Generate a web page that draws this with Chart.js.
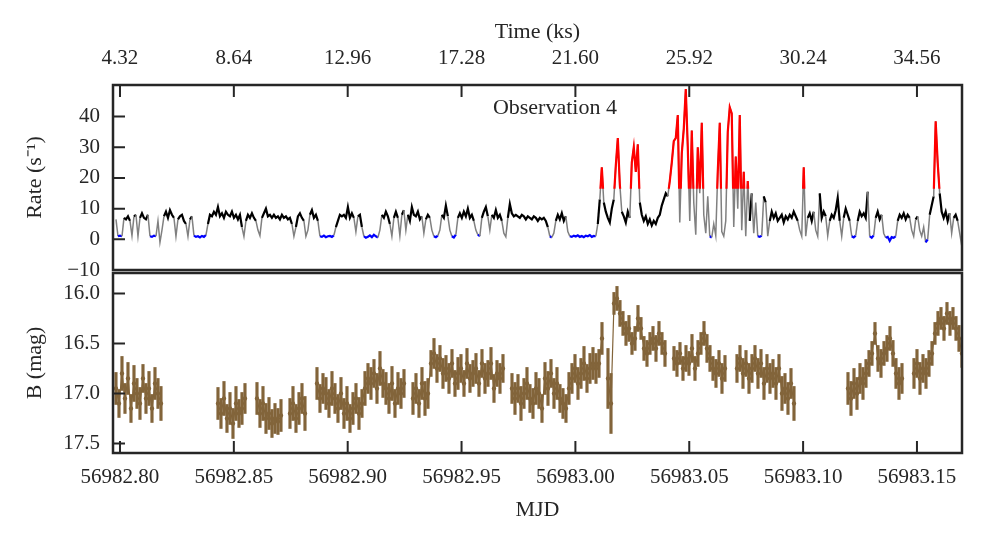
<!DOCTYPE html>
<html>
<head>
<meta charset="utf-8">
<script src="https://cdn.jsdelivr.net/npm/chart.js@4.4.0/dist/chart.umd.min.js"></script>
<style>
  html, body { margin: 0; padding: 0; background: #fff; }
  #wrap { position: relative; width: 983px; height: 544px; }
  #rateChart { position: absolute; left: 0; top: 0; z-index: 2; }
  #magChart { position: absolute; left: 0; top: 269px; z-index: 1; }
</style>
</head>
<body>
<div id="wrap">
  <canvas id="rateChart" width="983" height="290"></canvas>
  <canvas id="magChart" width="983" height="275"></canvas>
</div>
<script>
// X-ray count rate, binned light curve (one value per bin)
const rateStart = 56982.79824;
const rateStep = 0.000878;
const rate = [
  6.5, 1.0, 1.2, 1.0, 7, 6.5, 7.5, 6, 1.2, 7.5, 8, 1.0, 7, 8.5, 7, 6.5, 8, 1.0, 0.8, 1.2,
  1.0, 6, -1, 3, 7.5, 9, 7, 9.5, 8, 7, 1.0, 6.5, 7.5, 8, 6, 5, 1.0, 6.5, 7.5, 1.2,
  0.8, 1.0, 0.6, 1.1, 0.8, 1.4, 5, 8, 7.5, 9, 8, 10.5, 7.5, 8.5, 7, 9, 8, 7.5, 9, 7,
  8, 6.5, 8, 4, 1.0, 6, 8, 7, 8.5, 7, 6, 3, 1.2, 7, 8.5, 10, 7.5, 8, 7, 8,
  7, 7.5, 6.5, 8, 7, 7.5, 6.5, 7, 5, 1.0, 4, 7.5, 8.5, 7, 6, 1.0, 3, 8, 9.5, 7,
  8, 6, 1.0, 0.8, 1.2, 0.7, 1.0, 1.1, 0.8, 1.3, 4, 6, 8, 7.5, 8, 7, 10.5, 7, 8.5, 7,
  2.5, 7.5, 8, 4, 1.0, 0.5, 0.8, 1.3, 0.7, 1.5, 1.0, 0.6, 3, 8, 7, 9, 7.5, 5, 1.0, 7,
  9, 7, 1.2, 8, 9.5, 3, 8, 6, 10.5, 8, 7.5, 9, 6.5, 7.5, 2, 6.5, 8, 7, 3, 1.0,
  0.7, 1.2, 3, 8, 7, 11, 7.5, 3, 1.0, 0.6, 1.5, 7, 8.5, 7, 9, 7.5, 10, 7, 8, 6,
  3, 1.5, 1.0, 7, 9, 10.5, 7.5, 3, 8, 7, 9.5, 7, 8, 6, 2, 0.8, 7, 11.5, 8.5, 7.5,
  8, 7.5, 7, 8, 7.5, 6.5, 7.5, 7, 6.5, 7.5, 7, 6, 7, 6.5, 7, 6, 4, 1.0, 0.6, 2,
  6, 8, 6.5, 8.5, 6, 7.5, 2.5, 1.0, 0.8, 1.2, 0.9, 1.3, 0.8, 1.1, 0.7, 1.2, 1.0, 1.4, 0.8, 1.1,
  1.0, 5, 13, 23.5, 12, 9, 7, 5.5, 10, 13, 24, 33, 18, 9, 7.5, 5.5, 9, 7, 25, 30,
  22, 31, 12, 8, 6, 7.5, 5, 6.5, 4.5, 6, 5, 7, 8, 11, 13, 15, 14, 19, 25, 32,
  33, 40.5, 5.5, 28, 36, 49, 30, 6, 35.5, 12, 1.5, 30, 15, 38, 8, 2, 14, 1.0, 0.6, 5,
  1.2, 22, 38, 2.5, 1.0, 6, 35, 43, 41, 4, 27, 10, 40.5, 3, 22, 1.0, 19, 6, 15, 2,
  12, 1.0, 0.8, 1.2, 14, 12, 1.0, 6, 9, 7, 8.5, 6, 7, 8, 5.5, 7.5, 6.5, 8, 7, 9,
  7.5, 6, 3, 1.0, 23.5, 1.0, 7, 8.5, 6, 9, 3, 1.0, 15, 7, 9, 7.5, 1.2, 6, 8, 7,
  9.5, 13.5, 6, 1.0, 7, 10, 8, 6, 1.0, 0.6, 1.2, 6, 9, 7.5, 8.5, 7, 15.5, 1.0, 0.5, 1.3,
  7, 9, 6.5, 8, 2, 0.5, 0.8, -0.5, 0.7, 0.5, 1.0, 6, 8, 7, 8.5, 6.5, 8, 7, 3, 1.0,
  6.5, 7.5, 3, 1.0, 4, -1, 0, 8, 11, 14, 38.5, 25, 15, 9, 7, 9, 6, 8.5, 2, 7,
  8, 6, 2, -2
];
const flareLevel = 16.5;

// optical B magnitudes and their errors (null = no data)
const magStart = 56982.79824;
const magStep = 0.0013175;
const magB = [
  16.95, 17.10, 16.80, 17.05, 16.85, 17.15, 16.90, 17.00, 17.10, 16.85,
  17.05, 16.95, 17.15, 16.90, 17.00, 17.10, null, null, null, null,
  null, null, null, null, null, null, null, null, null, null,
  null, null, null, null, 17.10, 17.20, 17.05, 17.25, 17.15, 17.30,
  17.10, 17.20, 17.15, 17.05, null, null, null, 17.05, 17.20, 17.10,
  17.25, 17.20, 17.30, 17.25, 17.28, 17.22, null, null, 17.20, 17.10,
  17.25, 17.15, 17.05, 17.20, null, null, null, 16.90, 17.05, 16.95,
  17.00, 17.10, 16.95, 17.05, 17.15, 17.00, 17.20, 17.10, 17.25, 17.15,
  17.05, 17.20, 17.10, 16.95, 16.85, 16.90, 16.80, 16.95, 16.75, 16.90,
  16.95, 17.05, 16.90, 17.10, 16.95, 17.00, 16.90, null, null, 17.05,
  16.95, 17.10, 16.90, 17.05, 17.00, 16.70, 16.60, 16.75, 16.65, 16.80,
  16.75, 16.85, 16.70, 16.90, 16.80, 16.75, 16.90, 16.70, 16.85, 16.80,
  16.75, 16.90, 16.70, 16.85, 16.80, 16.70, 16.95, 16.80, 16.85, 16.75,
  null, null, 16.95, 17.05, 16.95, 17.10, 17.00, 16.90, 17.05, 17.10,
  16.95, 17.00, 17.15, 16.85, 16.95, 16.80, 17.00, 16.90, 17.05, 17.10,
  17.15, 16.95, 16.85, 16.75, 16.90, 16.80, 16.70, 16.85, 16.75, 16.70,
  16.75, 16.70, 16.45, null, 16.85, 17.10, 16.10, 16.05, 16.20, 16.30,
  16.40, 16.35, 16.50, 16.45, 16.25, 16.35, 16.55, 16.60, 16.50, 16.45,
  16.55, 16.40, 16.50, 16.60, null, null, 16.65, 16.70, 16.60, 16.75,
  16.65, 16.70, 16.55, 16.75, 16.60, 16.50, 16.40, 16.55, 16.65, 16.75,
  16.80, 16.70, 16.85, 16.75, null, null, null, 16.75, 16.65, 16.80,
  16.70, 16.85, 16.75, 16.65, 16.80, 16.70, 16.90, 16.75, 16.85, 16.80,
  16.90, 16.75, 17.00, 16.95, 17.05, 16.90, 17.10, null, null, null,
  null, null, null, null, null, null, null, null, null, null,
  null, null, null, null, 16.95, 17.05, 16.90, 17.00, 16.85, 16.90,
  16.80, 16.70, 16.60, 16.40, 16.65, 16.70, 16.60, 16.55, 16.45, 16.60,
  16.80, 16.90, 16.85, null, null, null, 16.80, 16.70, 16.85, 16.75,
  16.80, 16.70, 16.60, 16.40, 16.30, 16.25, 16.35, 16.20, 16.30, 16.25,
  16.35, 16.45, 16.60
];
const magErr = [
  0.16, 0.14, 0.17, 0.15, 0.16, 0.14, 0.18, 0.15, 0.16, 0.14,
  0.15, 0.17, 0.14, 0.16, 0.15, 0.17, null, null, null, null,
  null, null, null, null, null, null, null, null, null, null,
  null, null, null, null, 0.16, 0.15, 0.17, 0.14, 0.16, 0.15,
  0.17, 0.14, 0.16, 0.15, null, null, null, 0.16, 0.14, 0.17,
  0.15, 0.16, 0.14, 0.15, 0.13, 0.16, null, null, 0.15, 0.17,
  0.14, 0.16, 0.15, 0.17, null, null, null, 0.16, 0.14, 0.15,
  0.16, 0.14, 0.17, 0.15, 0.14, 0.16, 0.15, 0.17, 0.14, 0.16,
  0.15, 0.16, 0.14, 0.17, 0.15, 0.16, 0.14, 0.15, 0.17, 0.14,
  0.16, 0.15, 0.17, 0.14, 0.16, 0.15, 0.14, null, null, 0.16,
  0.15, 0.14, 0.16, 0.17, 0.15, 0.13, 0.15, 0.14, 0.13, 0.15,
  0.13, 0.15, 0.14, 0.13, 0.16, 0.14, 0.13, 0.15, 0.14, 0.13,
  0.15, 0.13, 0.14, 0.15, 0.13, 0.16, 0.14, 0.13, 0.15, 0.14,
  null, null, 0.15, 0.16, 0.14, 0.17, 0.15, 0.16, 0.14, 0.15,
  0.16, 0.15, 0.14, 0.16, 0.17, 0.14, 0.15, 0.16, 0.14, 0.15,
  0.14, 0.16, 0.15, 0.14, 0.16, 0.15, 0.17, 0.14, 0.15, 0.16,
  0.15, 0.14, 0.16, null, 0.30, 0.30, 0.11, 0.12, 0.13, 0.12,
  0.12, 0.13, 0.11, 0.12, 0.13, 0.11, 0.12, 0.13, 0.11, 0.12,
  0.13, 0.12, 0.11, 0.13, null, null, 0.12, 0.13, 0.11, 0.12,
  0.13, 0.12, 0.14, 0.12, 0.13, 0.11, 0.12, 0.14, 0.13, 0.12,
  0.14, 0.13, 0.15, 0.13, null, null, null, 0.14, 0.13, 0.15,
  0.13, 0.15, 0.14, 0.13, 0.15, 0.14, 0.16, 0.14, 0.15, 0.14,
  0.16, 0.14, 0.17, 0.15, 0.16, 0.15, 0.17, null, null, null,
  null, null, null, null, null, null, null, null, null, null,
  null, null, null, null, 0.16, 0.17, 0.15, 0.16, 0.15, 0.16,
  0.14, 0.13, 0.12, 0.11, 0.13, 0.14, 0.12, 0.13, 0.12, 0.13,
  0.15, 0.16, 0.15, null, null, null, 0.15, 0.14, 0.16, 0.14,
  0.15, 0.13, 0.12, 0.11, 0.12, 0.11, 0.12, 0.11, 0.12, 0.11,
  0.12, 0.13, 0.14
];

const mjdTicks = [56982.80, 56982.85, 56982.90, 56982.95, 56983.00, 56983.05, 56983.10, 56983.15];
const ksTicks = [4.32, 8.64, 12.96, 17.28, 21.60, 25.92, 30.24, 34.56];
const rateTicks = [-10, 0, 10, 20, 30, 40];
const magTicks = [16.0, 16.5, 17.0, 17.5];

const mjdMin = 56982.79693;
const mjdMax = 56983.16978;
const toKs = m => (m - 56982.75) * 86.4;

const ink = '#262626';
const brown = '#82643a';
const tickFont = { family: 'Liberation Serif', size: 21 };
const titleFont = { family: 'Liberation Serif', size: 22 };

// no extra padding for labels hanging over the plot edges
const noPad = s => { s.paddingTop = 0; s.paddingBottom = 0; s.paddingLeft = 0; s.paddingRight = 0; };

// frame round the plot area + inward tick marks
const framePlugin = {
  id: 'frame',
  afterDatasetsDraw(chart) {
    const { ctx, chartArea: a, scales } = chart;
    ctx.save();
    ctx.strokeStyle = ink;
    ctx.lineWidth = 2;
    ctx.beginPath();
    Object.values(scales).forEach(s => {
      if (!s.options.display) return;
      s.ticks.forEach(t => {
        const p = s.getPixelForValue(t.value);
        if (s.position === 'left') { ctx.moveTo(a.left, p); ctx.lineTo(a.left + 12, p); }
        if (s.position === 'top') { ctx.moveTo(p, a.top); ctx.lineTo(p, a.top + 12); }
        if (s.position === 'bottom') { ctx.moveTo(p, a.bottom); ctx.lineTo(p, a.bottom - 12); }
      });
    });
    ctx.stroke();
    ctx.lineWidth = 2.5;
    ctx.strokeRect(a.left, a.top, a.right - a.left, a.bottom - a.top);
    ctx.restore();
  }
};

// red copy of the light curve only shows above the flare level
const flareClip = {
  id: 'flareClip',
  beforeDatasetDraw(chart, args) {
    if (args.index !== 1) return;
    const { ctx, chartArea: a } = chart;
    const yCut = chart.scales.y.getPixelForValue(flareLevel);
    ctx.save();
    ctx.beginPath();
    ctx.rect(a.left, a.top, a.right - a.left, yCut - a.top);
    ctx.clip();
  },
  afterDatasetDraw(chart, args) {
    if (args.index === 1) chart.ctx.restore();
  }
};

const labelPlugin = {
  id: 'obsLabel',
  afterDatasetsDraw(chart) {
    const { ctx } = chart;
    const x = chart.scales.x.getPixelForValue(56982.991);
    const y = chart.scales.y.getPixelForValue(42.8);
    ctx.save();
    ctx.fillStyle = ink;
    ctx.font = '22px "Liberation Serif"';
    ctx.textAlign = 'center';
    ctx.textBaseline = 'middle';
    ctx.fillText('Observation 4', x, y);
    ctx.restore();
  }
};

function state(v) {
  if (v < 2) return 'blue';
  if (v > 16) return 'red';
  if (v >= 3.5) return 'black';
  return 'gray';
}
const stateColor = { blue: '#0000ff', red: '#ff0000', black: '#000000', gray: '#808080' };

function segColor(c) {
  const a = state(c.p0.parsed.y), b = state(c.p1.parsed.y);
  return a === b && a !== 'red' ? stateColor[a] : stateColor.gray;
}
function segWidth(c) {
  const a = state(c.p0.parsed.y), b = state(c.p1.parsed.y);
  return a === b && (a === 'black' || a === 'blue') ? 2.2 : 1.5;
}

const fmtRate = v => (v < 0 ? '\u2212' + Math.abs(v) : String(v));
const ratePts = rate.map((v, i) => ({ x: rateStart + i * rateStep, y: v }));

new Chart(document.getElementById('rateChart'), {
  type: 'line',
  data: {
    datasets: [{
      data: ratePts,
      order: 2,
      borderColor: stateColor.gray,
      borderWidth: 1.5,
      pointRadius: 0,
      tension: 0,
      segment: { borderColor: segColor, borderWidth: segWidth },
      xAxisID: 'x',
      yAxisID: 'y'
    }, {
      data: ratePts,
      order: 1,
      borderColor: stateColor.red,
      borderWidth: 2.2,
      pointRadius: 0,
      tension: 0,
      xAxisID: 'x',
      yAxisID: 'y'
    }]
  },
  options: {
    responsive: false,
    animation: false,
    devicePixelRatio: 1,
    layout: { padding: { left: 0, right: 21, top: 0, bottom: 20 } },
    plugins: { legend: { display: false }, tooltip: { enabled: false } },
    scales: {
      x: { type: 'linear', display: false, min: mjdMin, max: mjdMax },
      xt: {
        type: 'linear', position: 'top',
        min: toKs(mjdMin), max: toKs(mjdMax),
        afterBuildTicks: s => { s.ticks = ksTicks.map(v => ({ value: v })); },
        afterFit: s => { s.height = 85; noPad(s); },
        grid: { display: false, drawTicks: false },
        border: { display: false },
        ticks: { padding: 14, color: ink, font: tickFont, maxRotation: 0, autoSkip: false,
                 callback: v => v.toFixed(2) },
        title: { display: true, text: 'Time (ks)', color: ink, font: titleFont, padding: { top: 19, bottom: 0 } }
      },
      y: {
        type: 'linear', min: -10, max: 50.3,
        afterBuildTicks: s => { s.ticks = rateTicks.map(v => ({ value: v })); },
        afterFit: s => { s.width = 113; noPad(s); },
        grid: { display: false, drawTicks: false },
        border: { display: false },
        ticks: { padding: 13, color: ink, font: tickFont, callback: fmtRate },
        title: { display: true, text: 'Rate (s\u207B\u00B9)', color: ink, font: titleFont, padding: { top: 22, bottom: 0 } }
      }
    }
  },
  plugins: [flareClip, framePlugin, labelPlugin]
});

const magLine = [];
const magPts = [];
const magBars = [];
magB.forEach((m, i) => {
  const t = magStart + i * magStep;
  magLine.push({ x: t, y: m });
  if (m === null) return;
  magPts.push({ x: t, y: m });
  magBars.push({ x: t, y: [m - magErr[i], m + magErr[i]] });
});

new Chart(document.getElementById('magChart'), {
  type: 'scatter',
  data: {
    datasets: [
      { type: 'bar', data: magBars, backgroundColor: brown, barThickness: 2.5, borderWidth: 0 },
      { type: 'line', data: magLine, borderColor: brown, borderWidth: 1.2, pointRadius: 0, spanGaps: false, tension: 0 },
      { type: 'scatter', data: magPts, backgroundColor: brown, borderWidth: 0, pointRadius: 2.2 }
    ]
  },
  options: {
    responsive: false,
    animation: false,
    devicePixelRatio: 1,
    layout: { padding: { left: 0, right: 21, top: 1, bottom: 0 } },
    plugins: { legend: { display: false }, tooltip: { enabled: false } },
    scales: {
      x: {
        type: 'linear', position: 'bottom', offset: false,
        min: mjdMin, max: mjdMax,
        afterBuildTicks: s => { s.ticks = mjdTicks.map(v => ({ value: v })); },
        afterFit: s => { s.height = 91; noPad(s); },
        grid: { display: false, drawTicks: false },
        border: { display: false },
        ticks: { padding: 12, color: ink, font: tickFont, maxRotation: 0, autoSkip: false,
                 callback: v => v.toFixed(2) },
        title: { display: true, text: 'MJD', color: ink, font: titleFont, padding: { top: 0, bottom: 21 } }
      },
      y: {
        type: 'linear', reverse: true, min: 15.796, max: 17.595,
        afterBuildTicks: s => { s.ticks = magTicks.map(v => ({ value: v })); },
        afterFit: s => { s.width = 113; noPad(s); },
        grid: { display: false, drawTicks: false },
        border: { display: false },
        ticks: { padding: 13, color: ink, font: tickFont, callback: v => v.toFixed(1) },
        title: { display: true, text: 'B (mag)', color: ink, font: titleFont, padding: { top: 22, bottom: 0 } }
      }
    }
  },
  plugins: [framePlugin]
});
</script>
</body>
</html>
